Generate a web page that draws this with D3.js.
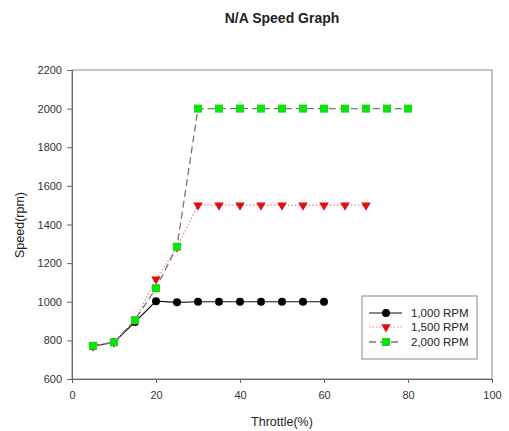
<!DOCTYPE html>
<html><head><meta charset="utf-8">
<script src="https://cdn.jsdelivr.net/npm/d3@7"></script>
<style>body{margin:0;background:#fff}svg{display:block;font-family:Arial,"Liberation Sans",sans-serif}</style>
</head><body><svg id="c" width="509" height="431"></svg>
<script>
const x1000 = [5,10,15,20,25,30,35,40,45,50,55,60];
const y1000 = [770,790,895,1003,997,1000,1000,1000,1000,1000,1000,1000];
const x1500 = [5,10,15,20,25,30,35,40,45,50,55,60,65,70];
const y1500 = [770,790,905,1117,1282,1500,1500,1500,1500,1500,1500,1500,1500,1500];
const x2000 = [5,10,15,20,25,30,35,40,45,50,55,60,65,70,75,80];
const y2000 = [772,790,905,1070,1285,2000,2000,2000,2000,2000,2000,2000,2000,2000,2000,2000];
const seriesNames = ["1,000 RPM","1,500 RPM","2,000 RPM"];
const xTicks = [0,20,40,60,80,100];
const yTicks = [600,800,1000,1200,1400,1600,1800,2000,2200];

const svg = d3.select("#c");
const L=72,R=492,T=70,B=379;
const x = d3.scaleLinear().domain([0,100]).range([L,R]);
const y = d3.scaleLinear().domain([600,2200]).range([B,T]);

svg.append("text").attr("x",282).attr("y",23).attr("text-anchor","middle")
  .attr("font-size",14).attr("font-weight","bold").attr("fill","#222").text("N/A Speed Graph");

// frame
svg.append("rect").attr("x",L).attr("y",T).attr("width",R-L).attr("height",B-T)
  .attr("fill","none").attr("stroke","#888").attr("stroke-width",1);

const xa = svg.append("g").attr("transform",`translate(0,${B})`)
  .call(d3.axisBottom(x).tickValues(xTicks).tickSize(4).tickPadding(8).tickFormat(d3.format("d")));
const ya = svg.append("g").attr("transform",`translate(${L},0)`)
  .call(d3.axisLeft(y).tickValues(yTicks).tickSize(5).tickPadding(5).tickFormat(d3.format("d")));
[xa,ya].forEach(a=>{
  a.selectAll("path").attr("stroke","#666");
  a.selectAll("line").attr("stroke","#666");
  a.selectAll("text").attr("font-size",11).attr("fill","#333").attr("font-family","Arial,'Liberation Sans',sans-serif");
});

svg.append("text").attr("x",282).attr("y",426).attr("text-anchor","middle")
  .attr("font-size",12.5).attr("fill","#222").text("Throttle(%)");
svg.append("text").attr("transform","translate(24,225) rotate(-90)").attr("text-anchor","middle")
  .attr("font-size",12.5).attr("fill","#222").text("Speed(rpm)");

const line = d3.line().x(d=>x(d[0])).y(d=>y(d[1]));
const d1 = x1000.map((v,i)=>[v,y1000[i]]);
const d2 = x1500.map((v,i)=>[v,y1500[i]]);
const d3s = x2000.map((v,i)=>[v,y2000[i]]);

const styles = [
  {stroke:"#111",dash:null,w:1.2},
  {stroke:"#f08080",dash:"1.5,2",w:1.2},
  {stroke:"#777",dash:"7,4",w:1.3}
];
const tri = d3.symbol().type(d3.symbolTriangle).size(40);
function drawTri(g,px,py){ g.append("path").attr("d",tri()).attr("transform",`translate(${px},${py}) rotate(180)`).attr("fill","#e01010"); }

// 1000
svg.append("path").datum(d1).attr("d",line).attr("fill","none").attr("stroke",styles[0].stroke).attr("stroke-width",styles[0].w);
// 2000 line, 1500 line
svg.append("path").datum(d2).attr("d",line).attr("fill","none").attr("stroke",styles[1].stroke).attr("stroke-width",styles[1].w).attr("stroke-dasharray",styles[1].dash);
svg.append("path").datum(d3s).attr("d",line).attr("fill","none").attr("stroke",styles[2].stroke).attr("stroke-width",styles[2].w).attr("stroke-dasharray",styles[2].dash);

svg.append("g").selectAll("circle").data(d1).join("circle")
  .attr("cx",d=>x(d[0])).attr("cy",d=>y(d[1])).attr("r",4).attr("fill","#000");
const tg = svg.append("g");
d2.forEach(d=>drawTri(tg,x(d[0]),y(d[1])));
svg.append("g").selectAll("rect").data(d3s).join("rect")
  .attr("x",d=>x(d[0])-4).attr("y",d=>y(d[1])-4).attr("width",8).attr("height",8).attr("fill","#10e010");

// legend
const lg = svg.append("g");
lg.append("rect").attr("x",362).attr("y",296).attr("width",115).attr("height",63)
  .attr("fill","#fff").attr("stroke","#888");
const rows=[313,327,342];
seriesNames.forEach((n,i)=>{
  const ry=rows[i];
  lg.append("line").attr("x1",369).attr("x2",402).attr("y1",ry).attr("y2",ry)
    .attr("stroke",styles[i].stroke).attr("stroke-width",styles[i].w).attr("stroke-dasharray",styles[i].dash);
  if(i===0) lg.append("circle").attr("cx",386).attr("cy",ry).attr("r",4).attr("fill","#000");
  if(i===1) drawTri(lg,386,ry);
  if(i===2) lg.append("rect").attr("x",382).attr("y",ry-4).attr("width",8).attr("height",8).attr("fill","#10e010");
  lg.append("text").attr("x",411).attr("y",ry+4).attr("font-size",11.5).attr("fill","#222").text(n);
});
</script></body></html>
